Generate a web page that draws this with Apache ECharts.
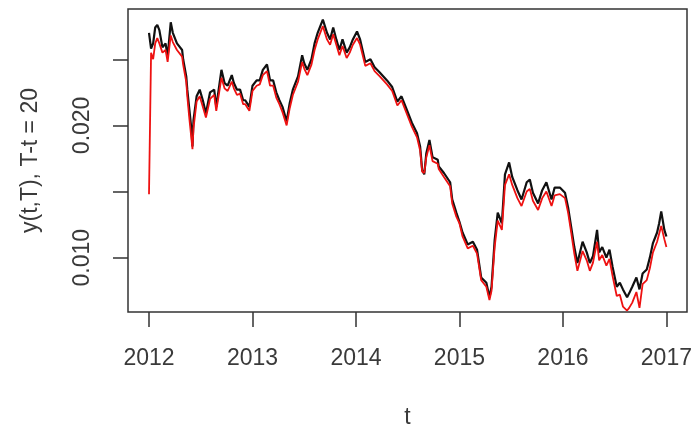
<!DOCTYPE html>
<html>
<head>
<meta charset="utf-8">
<script src="https://cdn.jsdelivr.net/npm/echarts@6/dist/echarts.min.js"></script>
<style>
    body { margin: 0; background: #fff; }
</style>
</head>
<body>
<div id="main" style="width: 695px;height:431px;"></div>
<script type="text/javascript">
    // time in years (t)
    var times = [
        2012.00, 2012.02, 2012.04, 2012.06, 2012.08, 2012.10, 2012.13, 2012.16, 2012.18, 2012.21,
        2012.23, 2012.27, 2012.32, 2012.33, 2012.36, 2012.37, 2012.39, 2012.41, 2012.42, 2012.43,
        2012.46, 2012.49, 2012.52, 2012.55, 2012.59, 2012.63, 2012.65, 2012.70, 2012.73, 2012.76,
        2012.80, 2012.82, 2012.85, 2012.88, 2012.91, 2012.93, 2012.97, 2013.00, 2013.04, 2013.07,
        2013.10, 2013.14, 2013.17, 2013.20, 2013.23, 2013.26, 2013.29, 2013.33, 2013.36, 2013.39,
        2013.44, 2013.48, 2013.50, 2013.53, 2013.57, 2013.60, 2013.63, 2013.68, 2013.72, 2013.75,
        2013.78, 2013.81, 2013.84, 2013.87, 2013.91, 2013.94, 2013.97, 2014.01, 2014.04, 2014.09,
        2014.14, 2014.18, 2014.23, 2014.30, 2014.35, 2014.40, 2014.44, 2014.49, 2014.54, 2014.59,
        2014.62, 2014.64, 2014.66, 2014.68, 2014.71, 2014.74, 2014.79, 2014.80, 2014.85, 2014.91,
        2014.93, 2014.97, 2015.00, 2015.03, 2015.08, 2015.13, 2015.17, 2015.21, 2015.26, 2015.29,
        2015.31, 2015.34, 2015.37, 2015.41, 2015.44, 2015.48, 2015.51, 2015.56, 2015.60, 2015.65,
        2015.68, 2015.71, 2015.76, 2015.80, 2015.84, 2015.89, 2015.92, 2015.97, 2016.02, 2016.05,
        2016.08, 2016.11, 2016.14, 2016.19, 2016.23, 2016.26, 2016.29, 2016.33, 2016.35, 2016.38,
        2016.42, 2016.45, 2016.48, 2016.52, 2016.55, 2016.58, 2016.62, 2016.64, 2016.67, 2016.71,
        2016.74, 2016.77, 2016.81, 2016.84, 2016.87, 2016.91, 2016.93, 2016.95, 2016.98, 2017.00
    ];

    // black series
    var blackVals = [
        0.0270, 0.0258, 0.0262, 0.0274, 0.0276, 0.0272, 0.0259, 0.0262, 0.0252, 0.0278,
        0.0270, 0.0262, 0.0257, 0.0250, 0.0237, 0.0227, 0.0212, 0.0197, 0.0184, 0.0204,
        0.0222, 0.0227, 0.0219, 0.0209, 0.0225, 0.0227, 0.0214, 0.0242, 0.0232, 0.0230,
        0.0238, 0.0232, 0.0227, 0.0227, 0.0219, 0.0219, 0.0214, 0.0230, 0.0234, 0.0234,
        0.0242, 0.0246, 0.0234, 0.0234, 0.0225, 0.0219, 0.0214, 0.0203, 0.0217, 0.0227,
        0.0237, 0.0253, 0.0247, 0.0242, 0.0250, 0.0262, 0.0270, 0.0280, 0.0270, 0.0265,
        0.0274, 0.0265, 0.0257, 0.0265, 0.0255, 0.0259, 0.0265, 0.0271, 0.0265, 0.0248,
        0.0250, 0.0244, 0.0240, 0.0234, 0.0229, 0.0218, 0.0222, 0.0212, 0.0202, 0.0194,
        0.0184, 0.0166, 0.0163, 0.0179, 0.0189, 0.0176, 0.0174, 0.0169, 0.0164, 0.0157,
        0.0144, 0.0134, 0.0127, 0.0119, 0.0110, 0.0112, 0.0106, 0.0085, 0.0081, 0.0070,
        0.0078, 0.0113, 0.0134, 0.0126, 0.0163, 0.0172, 0.0161, 0.0151, 0.0144, 0.0157,
        0.0159, 0.0149, 0.0141, 0.0151, 0.0157, 0.0144, 0.0153, 0.0153, 0.0149, 0.0138,
        0.0123, 0.0108, 0.0096, 0.0112, 0.0104, 0.0096, 0.0101, 0.0121, 0.0104, 0.0108,
        0.0100, 0.0106, 0.0093, 0.0078, 0.0081, 0.0076, 0.0070, 0.0073, 0.0078, 0.0085,
        0.0076, 0.0088, 0.0091, 0.0100, 0.0111, 0.0119, 0.0126, 0.0135, 0.0121, 0.0116
    ];

    // red series (drawn on top)
    var redVals = [
        0.0148, 0.0255, 0.0250, 0.0262, 0.0266, 0.0262, 0.0255, 0.0257, 0.0248, 0.0268,
        0.0263, 0.0257, 0.0252, 0.0246, 0.0233, 0.0222, 0.0205, 0.0190, 0.0182, 0.0198,
        0.0218, 0.0222, 0.0214, 0.0206, 0.0220, 0.0223, 0.0211, 0.0236, 0.0228, 0.0226,
        0.0233, 0.0228, 0.0223, 0.0224, 0.0216, 0.0216, 0.0211, 0.0226, 0.0230, 0.0231,
        0.0238, 0.0241, 0.0230, 0.0230, 0.0221, 0.0216, 0.0210, 0.0200, 0.0213, 0.0223,
        0.0233, 0.0248, 0.0243, 0.0238, 0.0246, 0.0257, 0.0265, 0.0275, 0.0265, 0.0261,
        0.0269, 0.0261, 0.0253, 0.0260, 0.0251, 0.0255, 0.0261, 0.0266, 0.0261, 0.0245,
        0.0247, 0.0241, 0.0237, 0.0231, 0.0226, 0.0215, 0.0219, 0.0209, 0.0199, 0.0191,
        0.0181, 0.0165, 0.0164, 0.0176, 0.0185, 0.0173, 0.0171, 0.0167, 0.0161, 0.0154,
        0.0141, 0.0131, 0.0126, 0.0116, 0.0107, 0.0109, 0.0103, 0.0083, 0.0078, 0.0068,
        0.0075, 0.0108, 0.0128, 0.0121, 0.0155, 0.0163, 0.0155, 0.0145, 0.0139, 0.0150,
        0.0152, 0.0143, 0.0136, 0.0145, 0.0150, 0.0139, 0.0147, 0.0148, 0.0145, 0.0134,
        0.0119, 0.0103, 0.0090, 0.0105, 0.0098, 0.0090, 0.0096, 0.0112, 0.0098, 0.0102,
        0.0094, 0.0099, 0.0086, 0.0071, 0.0072, 0.0063, 0.0060, 0.0062, 0.0066, 0.0074,
        0.0062, 0.0080, 0.0083, 0.0092, 0.0104, 0.0112, 0.0118, 0.0124, 0.0114, 0.0108
    ];

    var xTicks = [2012, 2013, 2014, 2015, 2016, 2017];
    var yTicks = [0.010, 0.015, 0.020, 0.025];
    var yLabels = [0.010, 0.020];

    function pairs(vals) {
        return times.map(function (t, i) {
            return [t, vals[i]];
        });
    }

    var myChart = echarts.init(document.getElementById('main'));

    var textColor = '#3a3a3a';
    var fontFam = 'Liberation Sans, Arial, sans-serif';

    var option = {
        animation: false,
        backgroundColor: '#fff',
        grid: {
            left: 128,
            top: 9,
            right: 8,
            bottom: 119,
            containLabel: false,
            outerBoundsMode: 'none',
            show: true,
            borderColor: '#333',
            borderWidth: 1.5,
            backgroundColor: 'transparent'
        },
        xAxis: {
            type: 'value',
            min: 2011.797,
            max: 2017.199,
            name: 't',
            nameLocation: 'middle',
            nameGap: 94,
            nameTextStyle: { color: textColor, fontSize: 23, fontFamily: fontFam },
            axisLine: { show: false },
            splitLine: { show: false },
            axisTick: {
                show: true,
                inside: false,
                length: 15,
                customValues: xTicks,
                lineStyle: { color: '#333', width: 1.5 }
            },
            axisLabel: {
                customValues: xTicks,
                margin: 35,
                color: textColor,
                fontSize: 23,
                fontFamily: fontFam,
                formatter: function (v) { return String(Math.round(v)); }
            }
        },
        yAxis: {
            type: 'value',
            min: 0.00589,
            max: 0.0288,
            name: 'y(t,T), T-t = 20',
            nameLocation: 'middle',
            nameGap: 86,
            nameTextStyle: { color: textColor, fontSize: 23, fontFamily: fontFam },
            axisLine: { show: false },
            splitLine: { show: false },
            axisTick: {
                show: true,
                inside: false,
                length: 15,
                customValues: yTicks,
                lineStyle: { color: '#333', width: 1.5 }
            },
            axisLabel: {
                customValues: yLabels,
                rotate: 90,
                margin: 34,
                color: textColor,
                fontSize: 23,
                fontFamily: fontFam,
                formatter: function (v) { return v.toFixed(3); }
            }
        },
        series: [{
            type: 'line',
            data: pairs(blackVals),
            showSymbol: false,
            lineStyle: { color: '#111', width: 2.2 },
            z: 2
        }, {
            type: 'line',
            data: pairs(redVals),
            showSymbol: false,
            lineStyle: { color: '#ee1111', width: 1.8 },
            z: 3
        }]
    };

    myChart.setOption(option);
</script>
</body>
</html>
